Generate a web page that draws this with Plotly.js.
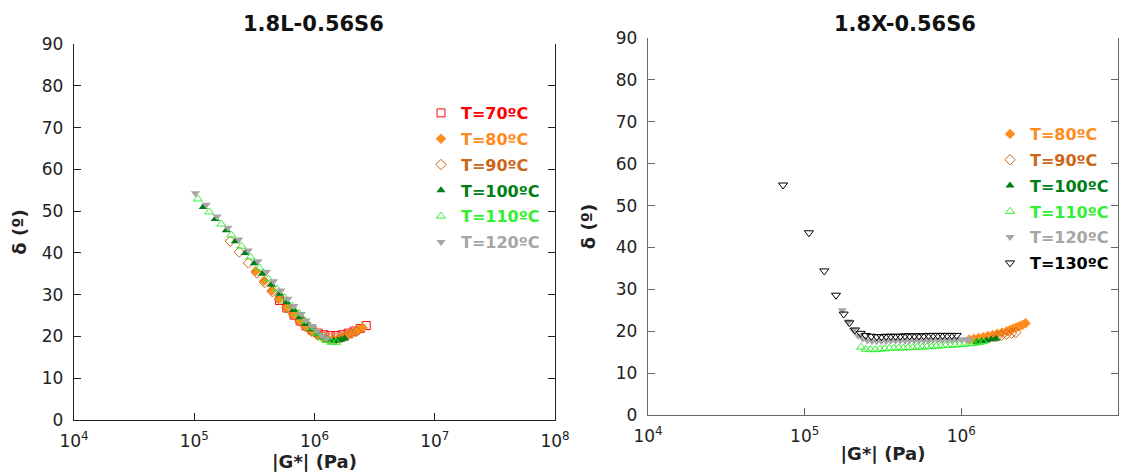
<!DOCTYPE html>
<html><head><meta charset="utf-8">
<script src="https://cdn.plot.ly/plotly-3.0.1.min.js"></script>
<style>html,body{margin:0;padding:0;background:#fff}#chart{width:1131px;height:476px}</style>
</head><body><div id="chart"></div>
<script>
// ---------- titles / labels ----------
const panelTitles = ['1.8L-0.56S6', '1.8X-0.56S6'];
const xTitle = '|G*| (Pa)';
const yTitle = 'δ (º)';
const yTickVals = [0, 10, 20, 30, 40, 50, 60, 70, 80, 90];
const xTickValsL = [1e4, 1e5, 1e6, 1e7, 1e8];
const xTickTextL = ['10<sup>4</sup>', '10<sup>5</sup>', '10<sup>6</sup>', '10<sup>7</sup>', '10<sup>8</sup>'];
const xTickValsR = [1e4, 1e5, 1e6, 1e7];
const xTickTextR = ['10<sup>4</sup>', '10<sup>5</sup>', '10<sup>6</sup>', '10<sup>7</sup>'];

// ---------- series names / colours ----------
const seriesNames = {T70: 'T=70ºC', T80: 'T=80ºC', T90: 'T=90ºC', T100: 'T=100ºC', T110: 'T=110ºC', T120: 'T=120ºC', T130: 'T=130ºC'};
const seriesColors = {T70: '#ff0000', T80: '#ff8c1e', T90: '#cc6619', T100: '#007f16', T110: '#33f033', T120: '#a6a6a6', T130: '#000000'};
const seriesSymbols = {T70: 'square-open', T80: 'diamond', T90: 'diamond-open', T100: 'triangle-up', T110: 'triangle-up-open', T120: 'triangle-down', T130: 'triangle-down-open'};

// ---------- LEFT panel: 1.8L-0.56S6 ----------
const L70_G = [5.129e5, 5.888e5, 6.761e5, 7.586e5, 8.511e5, 9.550e5, 1.072e6, 1.202e6, 1.349e6, 1.514e6, 1.698e6, 1.905e6, 2.138e6, 2.399e6, 2.692e6];
const L70_d = [28.6, 26.8, 25.1, 23.7, 22.5, 21.5, 20.8, 20.4, 20.2, 20.2, 20.4, 20.8, 21.3, 21.9, 22.6];

const L80_G = [3.236e5, 3.802e5, 4.416e5, 5.070e5, 5.821e5, 6.607e5, 7.499e5, 8.414e5, 9.441e5, 1.059e6, 1.175e6, 1.303e6, 1.445e6, 1.585e6, 1.738e6, 1.905e6, 2.042e6, 2.188e6, 2.344e6, 2.512e6];
const L80_d = [35.6, 33.3, 31.0, 29.0, 27.0, 25.3, 23.7, 22.3, 21.1, 20.2, 19.6, 19.3, 19.3, 19.5, 19.9, 20.4, 20.8, 21.2, 21.6, 22.1];

const L90_G = [1.995e5, 2.371e5, 2.818e5, 3.311e5, 3.846e5, 4.467e5, 5.129e5, 5.888e5, 6.761e5, 7.586e5, 8.511e5, 9.550e5, 1.072e6, 1.202e6, 1.349e6, 1.514e6, 1.698e6, 1.862e6, 2.042e6, 2.239e6];
const L90_d = [42.8, 40.2, 37.6, 35.2, 32.9, 30.7, 28.8, 26.9, 25.2, 23.7, 22.4, 21.3, 20.4, 19.8, 19.5, 19.5, 19.8, 20.2, 20.7, 21.2];

const L100_G = [1.189e5, 1.496e5, 1.849e5, 2.198e5, 2.661e5, 3.162e5, 3.690e5, 4.385e5, 5.129e5, 5.888e5, 6.761e5, 7.586e5, 8.511e5, 9.550e5, 1.072e6, 1.202e6, 1.318e6, 1.445e6, 1.549e6, 1.660e6, 1.778e6];
const L100_d = [51.0, 48.1, 45.4, 42.8, 40.0, 37.5, 35.0, 32.4, 30.2, 28.2, 26.3, 24.6, 23.0, 21.7, 20.5, 19.6, 19.1, 18.9, 19.0, 19.2, 19.5];

const L110_G = [1.072e5, 1.334e5, 1.679e5, 2.032e5, 2.466e5, 2.931e5, 3.483e5, 4.140e5, 4.898e5, 5.623e5, 6.457e5, 7.413e5, 8.318e5, 9.333e5, 1.047e6, 1.148e6, 1.259e6, 1.380e6, 1.514e6];
const L110_d = [52.9, 49.8, 46.9, 44.3, 41.6, 39.0, 36.4, 33.7, 31.3, 29.3, 27.3, 25.5, 23.8, 22.2, 20.8, 19.7, 19.0, 18.6, 18.6];

const L120_G = [1.023e5, 1.259e5, 1.549e5, 1.905e5, 2.344e5, 2.818e5, 3.388e5, 3.981e5, 4.571e5, 5.248e5, 6.026e5, 6.761e5, 7.762e5, 8.511e5, 9.550e5, 1.047e6, 1.148e6, 1.259e6];
const L120_d = [54.3, 51.5, 48.7, 46.0, 43.2, 40.6, 38.0, 35.5, 33.2, 31.0, 29.0, 27.3, 25.4, 23.8, 22.5, 21.3, 20.2, 19.5];

// ---------- RIGHT panel: 1.8X-0.56S6 ----------
const R80_G = [1.122e6, 1.202e6, 1.288e6, 1.380e6, 1.479e6, 1.585e6, 1.698e6, 1.820e6, 1.950e6, 2.042e6, 2.138e6, 2.239e6, 2.344e6, 2.455e6, 2.570e6];
const R80_d = [18.0, 18.2, 18.4, 18.6, 18.9, 19.1, 19.4, 19.7, 20.0, 20.3, 20.6, 20.9, 21.2, 21.5, 21.9];

const R90_G = [1.679e6, 1.807e6, 1.945e6, 2.094e6, 2.228e6];
const R90_d = [18.7, 19.0, 19.3, 19.5, 19.7];

const R100_G = [1.259e6, 1.349e6, 1.445e6, 1.549e6, 1.660e6];
const R100_d = [17.4, 17.6, 17.8, 18.0, 18.2];

const R110_G = [2.291e5, 2.455e5, 2.630e5, 2.818e5, 3.020e5, 3.236e5, 3.467e5, 3.715e5, 3.981e5, 4.266e5, 4.571e5, 4.898e5, 5.248e5, 5.623e5, 6.026e5, 6.457e5, 6.918e5, 7.413e5, 7.943e5, 8.511e5, 9.120e5, 9.772e5, 1.047e6, 1.122e6, 1.202e6, 1.288e6, 1.380e6];
const R110_d = [16.2, 15.7, 15.6, 15.6, 15.7, 15.8, 15.9, 15.9, 16.0, 16.0, 16.1, 16.1, 16.2, 16.2, 16.3, 16.3, 16.4, 16.5, 16.6, 16.6, 16.7, 16.8, 16.9, 17.0, 17.1, 17.3, 17.5];

const R120_G = [1.738e5, 1.905e5, 2.042e5, 2.188e5, 2.344e5, 2.512e5, 2.692e5, 2.884e5, 3.090e5, 3.311e5, 3.548e5, 3.802e5, 4.074e5, 4.365e5, 4.677e5, 5.012e5, 5.370e5, 5.754e5, 6.166e5, 6.607e5, 7.079e5, 7.586e5, 8.128e5, 8.710e5, 9.333e5, 1.000e6, 1.072e6, 1.122e6];
const R120_d = [25.0, 22.3, 20.3, 18.9, 18.2, 17.8, 17.6, 17.6, 17.6, 17.6, 17.7, 17.7, 17.7, 17.7, 17.8, 17.8, 17.8, 17.8, 17.8, 17.9, 17.9, 17.9, 17.9, 17.9, 18.0, 18.0, 18.0, 18.0];

const R130_G = [7.278e4, 1.064e5, 1.334e5, 1.585e5, 1.774e5, 1.928e5, 2.094e5, 2.275e5, 2.455e5, 2.661e5, 2.884e5, 3.090e5, 3.311e5, 3.548e5, 3.802e5, 4.074e5, 4.365e5, 4.677e5, 5.012e5, 5.370e5, 5.754e5, 6.166e5, 6.607e5, 7.079e5, 7.586e5, 8.128e5, 8.710e5, 9.333e5];
const R130_d = [54.9, 43.5, 34.4, 28.6, 24.1, 22.0, 20.3, 19.5, 19.0, 18.8, 18.7, 18.7, 18.8, 18.8, 18.8, 18.8, 18.9, 18.9, 18.9, 18.9, 18.9, 19.0, 19.0, 19.0, 19.0, 19.0, 19.0, 19.0];

// ---------- build traces ----------
function mk(key, x, y, xa, ya, leg) {
  const c = seriesColors[key];
  const open = seriesSymbols[key].indexOf('open') >= 0;
  return {
    type: 'scatter', mode: 'markers', x: x, y: y, xaxis: xa, yaxis: ya, legend: leg,
    legendgroup: leg + key,
    name: '<span style="color:' + c + '">' + seriesNames[key] + '</span>',
    marker: {symbol: seriesSymbols[key], size: 8, color: c, line: {color: c, width: open ? 1 : 0}},
    hoverinfo: 'x+y'
  };
}
const traces = [
  mk('T70', L70_G, L70_d, 'x', 'y', 'legend'),
  mk('T80', L80_G, L80_d, 'x', 'y', 'legend'),
  mk('T90', L90_G, L90_d, 'x', 'y', 'legend'),
  mk('T100', L100_G, L100_d, 'x', 'y', 'legend'),
  mk('T110', L110_G, L110_d, 'x', 'y', 'legend'),
  mk('T120', L120_G, L120_d, 'x', 'y', 'legend'),
  mk('T80', R80_G, R80_d, 'x2', 'y2', 'legend2'),
  mk('T90', R90_G, R90_d, 'x2', 'y2', 'legend2'),
  mk('T100', R100_G, R100_d, 'x2', 'y2', 'legend2'),
  mk('T110', R110_G, R110_d, 'x2', 'y2', 'legend2'),
  mk('T120', R120_G, R120_d, 'x2', 'y2', 'legend2'),
  mk('T130', R130_G, R130_d, 'x2', 'y2', 'legend2')
];

const W = 1131, H = 476;
const FONT = 'DejaVu Sans, Liberation Sans, Arial, sans-serif';
function xax(dom, rng, vals, text, col, anchor) {
  return {
    type: 'log', domain: dom, range: rng, anchor: anchor,
    tickmode: 'array', tickvals: vals, ticktext: text,
    ticks: 'inside', ticklen: 7, tickcolor: col, tickwidth: 1,
    ticklabelstandoff: 5,
    showline: true, linecolor: col, linewidth: 1.3, mirror: false,
    showgrid: false, zeroline: false,
    tickfont: {family: FONT, size: 17, color: '#222'},
    title: {text: xTitle, font: {family: FONT, size: 18, color: '#222', weight: 'bold'}, standoff: 2}
  };
}
function yax(dom, col, anchor, standoff) {
  return {
    domain: dom, range: [0, 90], anchor: anchor,
    tickmode: 'array', tickvals: yTickVals,
    ticks: 'inside', ticklen: 7, tickcolor: col, tickwidth: 1,
    ticklabelstandoff: 6,
    showline: true, linecolor: col, linewidth: 1.3, mirror: 'ticks',
    showgrid: false, zeroline: false,
    tickfont: {family: FONT, size: 17, color: '#222'},
    title: {text: yTitle, font: {family: FONT, size: 18, color: '#222', weight: 'bold'}, standoff: standoff}
  };
}
const legFont = {family: FONT, size: 16, weight: 'bold', color: '#000'};
const layout = {
  width: W, height: H,
  margin: {l: 0, r: 0, t: 0, b: 0},
  paper_bgcolor: '#fff', plot_bgcolor: '#fff',
  font: {family: FONT},
  xaxis: xax([74 / W, 555 / W], [4, 8], xTickValsL, xTickTextL, '#222', 'y'),
  yaxis: yax([(H - 420) / H, (H - 44) / H], '#222', 'x', 10),
  xaxis2: xax([648 / W, 1118 / W], [4, 7], xTickValsR, xTickTextR, '#666', 'y2'),
  yaxis2: yax([(H - 415) / H, (H - 38) / H], '#666', 'x2', 15),
  legend: {x: 421 / W, y: 1 - 96 / H, xanchor: 'left', yanchor: 'top', bgcolor: 'rgba(0,0,0,0)',
    traceorder: 'grouped', tracegroupgap: 2, font: legFont},
  legend2: {x: 990 / W, y: 1 - 117 / H, xanchor: 'left', yanchor: 'top', bgcolor: 'rgba(0,0,0,0)',
    traceorder: 'grouped', tracegroupgap: 2, font: legFont},
  annotations: [
    {text: panelTitles[0], xref: 'paper', yref: 'paper', x: 313 / W, y: 1 - 24 / H, xanchor: 'center', yanchor: 'middle', showarrow: false,
      font: {family: FONT, size: 21, weight: 'bold', color: '#111'}},
    {text: panelTitles[1], xref: 'paper', yref: 'paper', x: 905 / W, y: 1 - 24 / H, xanchor: 'center', yanchor: 'middle', showarrow: false,
      font: {family: FONT, size: 21, weight: 'bold', color: '#111'}}
  ],
  showlegend: true
};
Plotly.newPlot('chart', traces, layout, {displayModeBar: false, staticPlot: true});
</script></body></html>
